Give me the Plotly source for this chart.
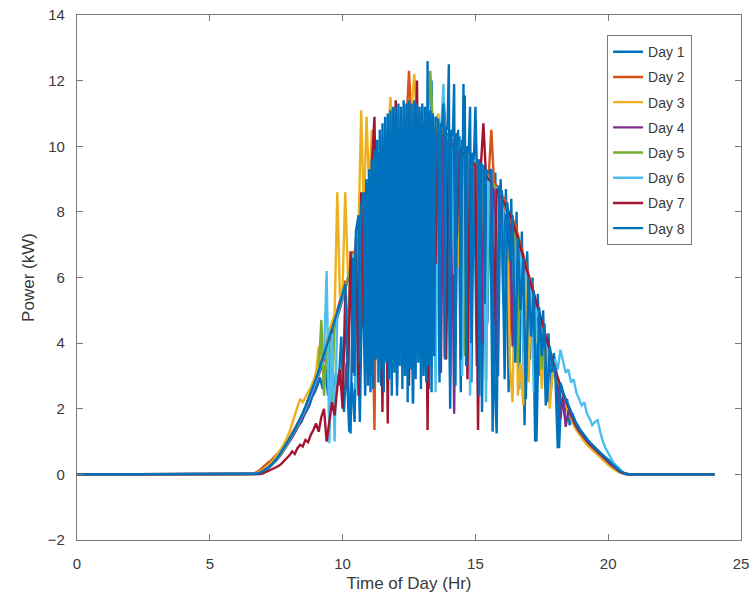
import plotly.graph_objects as go

# Sampling grid for the daylight hours (0.1 h steps, 6.5 h .. 21.0 h), plus night end points
GRID_START = 6.5
GRID_STEP = 0.1
GRID_COUNT = 146
HOURS = [0.0] + [round(GRID_START + GRID_STEP * i, 2) for i in range(GRID_COUNT)] + [24.0]
# Day 1 was logged half a step later (6.55 h, 6.65 h, ...)
DAY1_OFFSET = 0.05
HOURS_DAY1 = [0.0] + [round(GRID_START + DAY1_OFFSET + GRID_STEP * i, 2) for i in range(GRID_COUNT)] + [24.0]
# Day 8 was logged every 0.05 h between 10.45 h and 15.5 h
FINE_STEP = 0.05
HOURS_DAY8 = ([0.0]
              + [round(6.5 + GRID_STEP * i, 2) for i in range(40)]        # 6.5 .. 10.4
              + [round(10.45 + FINE_STEP * i, 2) for i in range(102)]     # 10.45 .. 15.5
              + [round(15.6 + GRID_STEP * i, 2) for i in range(55)]       # 15.6 .. 21.0
              + [24.0])

# Power (kW); first and last values are the night-time zeros at 0 h and 24 h.
# Rows: 6.5-6.9, then one row per hour 7..20, then 21.0
day1 = [0,
    0, 0, 0.01, 0.03, 0.06,
    0.1, 0.16, 0.22, 0.3, 0.38, 0.48, 0.6, 0.7, 0.82, 0.95,
    1.05, 1.2, 1.35, 1.5, 1.6, 1.8, 1.95, 2.1, 2.35, 2.5,
    2.7, 2.95, 2.6, 3.3, 2.4, 3.6, 2.2, 3.1, 2.7, 4.2,
    1.9, 3.4, 1.3, 2.8, 1.6, 5.2, 1.6, 6.6, 2.4, 7.9,
    2.5, 8.6, 3.8, 9.3, 2.7, 9.6, 4.2, 10.1, 3.1, 10.3,
    2.4, 10.5, 5.0, 10.7, 3.3, 11.2, 2.2, 10.9, 4.5, 11.0,
    3.2, 10.8, 2.6, 12.0, 4.1, 10.6, 2.8, 11.1, 3.6, 10.4,
    2.0, 10.2, 3.9, 10.5, 2.5, 11.9, 4.4, 10.0, 2.8, 9.8,
    3.3, 9.6, 1.9, 9.4, 4.6, 9.3, 1.3, 9.2, 3.0, 9.0,
    5.2, 8.7, 2.5, 8.4, 3.8, 8.0, 2.6, 7.4, 1.5, 6.8,
    3.5, 6.0, 1.0, 5.5, 3.0, 5.0, 2.1, 4.3, 2.6, 3.7,
    3.1, 0.8, 2.7, 1.8, 2.3, 1.5, 1.85, 1.6, 1.5, 1.35,
    1.25, 1.13, 1.03, 0.94, 0.85, 0.77, 0.7, 0.62, 0.55, 0.48,
    0.4, 0.32, 0.25, 0.17, 0.11, 0.06, 0.02, 0, 0, 0,
    0,
    0]

day2 = [0,
    0, 0.01, 0.04, 0.08, 0.14,
    0.22, 0.3, 0.36, 0.42, 0.5, 0.6, 0.68, 0.78, 0.88, 1.0,
    1.12, 1.25, 1.4, 1.55, 1.7, 1.85, 2.05, 2.25, 2.45, 2.7,
    2.95, 3.2, 3.45, 3.7, 3.95, 4.2, 4.5, 4.75, 5.0, 5.3,
    5.6, 5.9, 4.1, 6.5, 6.8, 3.6, 7.4, 7.7, 5.2, 8.3,
    8.8, 6.1, 1.35, 9.4, 9.6, 7.3, 9.9, 10.0, 3.5, 10.2,
    10.3, 10.4, 8.2, 10.5, 10.6, 12.3, 10.6, 6.5, 10.7, 10.7,
    10.7, 4.8, 10.6, 10.6, 9.0, 10.5, 10.4, 7.6, 11.5, 10.3,
    10.2, 10.2, 5.4, 10.0, 9.9, 9.9, 3.8, 9.8, 9.7, 9.6,
    9.5, 9.4, 9.4, 6.9, 9.2, 9.1, 10.5, 8.9, 8.8, 8.6,
    8.5, 8.4, 8.2, 4.2, 7.8, 7.6, 7.3, 7.0, 6.7, 6.4,
    6.1, 5.8, 5.5, 5.2, 4.9, 4.6, 4.3, 4.0, 3.7, 3.4,
    3.1, 2.85, 2.6, 2.35, 2.15, 1.95, 1.75, 1.58, 1.43, 1.3,
    1.18, 1.08, 0.98, 0.89, 0.8, 0.72, 0.64, 0.57, 0.5, 0.43,
    0.35, 0.27, 0.2, 0.14, 0.09, 0.05, 0.02, 0, 0, 0,
    0,
    0]

day3 = [0,
    0, 0, 0.02, 0.05, 0.09,
    0.14, 0.2, 0.27, 0.35, 0.44, 0.55, 0.67, 0.8, 0.95, 1.1,
    1.3, 1.55, 1.85, 2.1, 2.3, 2.2, 2.35, 2.5, 2.65, 2.85,
    3.1, 3.9, 3.6, 3.85, 4.1, 4.35, 4.6, 4.9, 8.6, 5.4,
    5.7, 8.6, 6.1, 6.4, 4.2, 7.0, 7.4, 11.1, 7.9, 10.9,
    8.7, 10.5, 9.2, 6.8, 9.5, 9.7, 9.8, 9.9, 11.5, 10.1,
    10.2, 5.3, 10.4, 10.4, 10.5, 10.6, 11.2, 12.2, 10.7, 8.8,
    10.7, 10.6, 3.9, 10.6, 10.5, 10.5, 11.0, 10.4, 10.3, 10.3,
    10.2, 10.1, 10.0, 10.0, 6.3, 9.8, 9.8, 9.7, 9.6, 9.5,
    9.4, 9.3, 9.3, 9.2, 9.1, 9.0, 8.9, 8.8, 8.6, 8.4,
    8.3, 8.1, 7.9, 3.3, 2.2, 7.3, 2.4, 3.4, 2.1, 6.2,
    2.8, 5.6, 5.3, 4.0, 4.7, 2.6, 4.1, 3.7, 2.0, 3.1,
    2.9, 2.7, 2.45, 2.25, 2.05, 1.85, 1.65, 1.5, 1.35, 1.22,
    1.1, 1.0, 0.9, 0.82, 0.74, 0.66, 0.58, 0.5, 0.43, 0.36,
    0.29, 0.22, 0.16, 0.11, 0.07, 0.04, 0.01, 0, 0, 0,
    0,
    0]

day4 = [0,
    0, 0, 0, 0.02, 0.04,
    0.08, 0.12, 0.18, 0.25, 0.33, 0.42, 0.52, 0.63, 0.75, 0.88,
    1.0, 1.13, 1.27, 1.42, 1.58, 1.75, 1.93, 2.12, 2.33, 2.55,
    2.78, 3.0, 3.25, 3.5, 3.75, 4.0, 4.25, 4.5, 4.78, 5.05,
    5.35, 5.65, 5.95, 6.25, 6.55, 6.9, 7.2, 7.5, 7.8, 8.1,
    8.4, 8.65, 8.9, 9.1, 4.2, 9.5, 9.65, 9.8, 9.95, 10.05,
    10.15, 10.25, 10.3, 10.4, 10.45, 10.5, 10.55, 10.6, 10.6, 10.6,
    10.6, 10.6, 10.55, 10.55, 10.5, 10.45, 10.4, 3.1, 10.3, 10.25,
    10.15, 10.1, 1.85, 10.0, 9.9, 9.85, 9.8, 9.7, 9.6, 9.5,
    9.45, 9.35, 9.25, 4.0, 9.05, 8.95, 8.85, 8.7, 2.6, 8.45,
    8.3, 8.15, 8.0, 7.8, 3.9, 7.3, 7.05, 6.75, 6.45, 6.15,
    5.85, 5.6, 5.35, 5.1, 4.85, 4.55, 4.25, 3.95, 3.65, 3.35,
    3.1, 2.85, 1.7, 2.4, 1.45, 1.95, 1.78, 1.6, 1.45, 1.32,
    1.2, 1.1, 1.0, 0.91, 0.83, 0.75, 0.68, 0.6, 0.53, 0.46,
    0.38, 0.3, 0.23, 0.16, 0.1, 0.05, 0.02, 0, 0, 0,
    0,
    0]

day5 = [0,
    0, 0, 0.01, 0.03, 0.05,
    0.09, 0.14, 0.2, 0.27, 0.35, 0.44, 0.54, 0.65, 0.77, 0.9,
    1.03, 1.17, 1.32, 1.48, 1.65, 1.83, 2.02, 2.22, 2.43, 2.65,
    2.88, 3.1, 4.7, 2.4, 3.85, 4.1, 2.2, 4.6, 4.85, 5.1,
    5.4, 5.7, 6.0, 6.3, 6.6, 6.95, 3.0, 7.55, 7.85, 8.15,
    8.45, 8.7, 4.4, 9.15, 9.35, 9.55, 9.7, 2.8, 10.0, 10.1,
    10.2, 10.3, 10.35, 10.45, 5.1, 10.55, 10.6, 10.65, 10.65, 10.7,
    10.7, 10.65, 10.65, 12.3, 10.55, 10.5, 10.45, 10.4, 10.35, 10.3,
    10.2, 10.15, 10.1, 10.0, 9.95, 9.9, 3.6, 9.75, 9.65, 9.55,
    9.5, 9.4, 9.3, 9.2, 2.9, 9.0, 8.9, 8.8, 8.65, 8.5,
    8.35, 8.2, 8.05, 7.85, 7.6, 7.35, 3.4, 6.85, 6.55, 6.25,
    5.95, 5.7, 5.45, 5.2, 4.9, 3.2, 4.3, 4.0, 3.7, 3.4,
    3.15, 2.9, 2.65, 2.45, 2.25, 2.05, 1.85, 1.67, 1.52, 1.38,
    1.26, 1.15, 1.05, 0.96, 0.87, 0.79, 0.71, 0.63, 0.56, 0.49,
    0.41, 0.33, 0.26, 0.18, 0.12, 0.07, 0.03, 0.01, 0, 0,
    0,
    0]

day6 = [0,
    0, 0, 0, 0.02, 0.05,
    0.09, 0.14, 0.2, 0.27, 0.35, 0.45, 0.56, 0.68, 0.8, 0.93,
    1.06, 1.2, 1.35, 1.5, 1.66, 1.83, 2.0, 2.2, 2.4, 2.62,
    2.85, 3.1, 3.35, 3.6, 6.2, 0.95, 4.3, 1.0, 4.85, 5.15,
    5.45, 5.75, 2.9, 6.4, 6.7, 2.6, 7.3, 7.6, 5.0, 8.2,
    8.5, 3.4, 9.0, 9.2, 4.5, 9.6, 9.75, 2.9, 10.0, 10.1,
    6.8, 10.3, 10.35, 3.2, 10.5, 10.55, 7.4, 10.6, 10.65, 3.7,
    10.7, 10.65, 5.9, 10.6, 10.55, 2.5, 10.45, 10.4, 11.9, 4.3,
    10.2, 10.15, 6.1, 10.0, 9.95, 3.0, 9.85, 9.75, 2.4, 9.6,
    9.5, 4.8, 9.35, 9.25, 2.2, 9.05, 8.95, 5.6, 8.75, 8.6,
    8.45, 3.6, 8.1, 7.9, 7.65, 4.4, 7.15, 6.85, 3.9, 6.25,
    5.95, 5.65, 2.5, 5.1, 4.8, 4.5, 4.2, 3.9, 3.6, 3.3,
    3.5, 3.2, 3.8, 3.4, 3.1, 3.2, 2.8, 2.9, 2.5, 2.3,
    2.1, 2.2, 1.85, 1.7, 1.5, 1.6, 1.65, 1.3, 1.0, 0.8,
    0.64, 0.5, 0.35, 0.27, 0.2, 0.08, 0.02, 0, 0, 0,
    0,
    0]

day7 = [0,
    0, 0, 0, 0, 0.01,
    0.03, 0.06, 0.1, 0.14, 0.18, 0.22, 0.26, 0.33, 0.4, 0.5,
    0.58, 0.7, 0.62, 0.8, 0.9, 0.85, 1.05, 0.98, 1.2, 1.35,
    1.55, 1.3, 1.75, 2.0, 1.0, 1.6, 2.2, 1.8, 2.65, 3.2,
    2.0, 5.5, 2.6, 6.8, 3.1, 7.2, 2.4, 8.6, 4.5, 8.9,
    3.3, 9.4, 10.9, 5.2, 9.6, 1.9, 9.9, 1.55, 10.1, 6.0,
    11.4, 3.6, 10.5, 7.8, 10.6, 2.7, 10.6, 8.3, 12.0, 4.2,
    10.7, 9.2, 1.35, 10.6, 10.5, 6.4, 10.4, 10.35, 10.3, 3.5,
    10.15, 10.1, 10.0, 7.2, 9.9, 9.8, 9.7, 2.9, 9.6, 9.5,
    9.45, 1.35, 9.3, 10.7, 9.1, 9.0, 8.9, 4.6, 8.7, 8.55,
    8.4, 8.25, 8.1, 7.9, 7.7, 7.45, 7.2, 6.9, 6.6, 6.3,
    6.0, 5.75, 5.5, 5.25, 4.95, 4.65, 4.35, 4.05, 3.75, 3.45,
    3.2, 2.95, 2.7, 2.45, 2.25, 2.05, 1.85, 1.65, 1.5, 1.37,
    1.25, 1.14, 1.04, 0.95, 0.86, 0.78, 0.7, 0.62, 0.55, 0.48,
    0.4, 0.32, 0.24, 0.17, 0.11, 0.06, 0.03, 0.01, 0, 0,
    0,
    0]

# Day 8: 0 h, then 6.5-10.4 (0.1 h), 10.45-15.5 (0.05 h), 15.6-21.0 (0.1 h), then 24 h
day8 = [0,
    0, 0, 0.01, 0.02, 0.05,
    0.1, 0.15, 0.21, 0.28, 0.36, 0.46, 0.57, 0.69, 0.81, 0.94,
    1.07, 1.21, 1.36, 1.52, 1.69, 1.87, 2.06, 2.26, 2.47, 2.69,
    2.92, 3.15, 3.4, 3.65, 3.9, 4.15, 4.4, 4.65, 4.9, 5.2,
    5.5, 5.8, 2.9, 1.25, 6.6,
    # 10.45 .. 10.95
    3.0, 7.4, 7.6, 7.9, 3.4, 8.2, 8.4, 8.6, 3.1, 9.0, 2.7,
    # 11.0 .. 11.95
    9.3, 3.0, 9.6, 2.6, 9.9, 3.5, 10.2, 2.8, 10.5, 3.2, 10.7, 2.5, 10.9, 3.4, 11.0, 2.9, 11.1, 2.4, 11.2, 3.1,
    # 12.0 .. 12.95
    11.2, 2.7, 11.3, 3.3, 11.2, 2.6, 11.4, 3.0, 11.3, 2.2, 11.4, 3.2, 11.3, 2.15, 11.4, 2.9, 11.3, 3.4, 11.2, 2.6,
    # 13.0 .. 13.95
    11.3, 3.0, 11.2, 2.8, 12.6, 3.3, 11.1, 2.5, 11.0, 3.6, 10.9, 10.8, 10.8, 3.1, 10.7, 10.6, 11.3, 3.5, 10.6, 10.5,
    # 14.0 .. 14.95
    12.5, 3.0, 10.5, 10.3, 11.9, 2.7, 10.4, 10.2, 10.3, 3.5, 10.2, 10.0, 11.55, 3.3, 10.0, 9.9, 11.2, 4.0, 9.8, 9.7,
    # 15.0 .. 15.5
    11.2, 9.5, 9.6, 2.4, 9.5, 9.4, 9.4, 5.2, 9.3, 9.2, 9.2,
    # 15.6 .. 15.9
    9.3, 3.3, 1.25, 8.8,
    8.6, 2.9, 8.3, 6.5, 7.9, 3.4, 7.2, 5.0, 6.6, 2.3,
    6.0, 4.2, 5.6, 1.0, 5.1, 3.6, 4.6, 2.2, 3.9, 3.3,
    3.3, 0.8, 2.8, 2.5, 2.3, 2.1, 1.9, 1.7, 1.55, 1.4,
    1.28, 1.17, 1.07, 0.98, 0.89, 0.81, 0.73, 0.65, 0.58, 0.5,
    0.42, 0.34, 0.26, 0.19, 0.13, 0.08, 0.04, 0.01, 0, 0,
    0,
    0]

DAY_NAMES = ["Day 1", "Day 2", "Day 3", "Day 4", "Day 5", "Day 6", "Day 7", "Day 8"]
DAY_VALUES = [day1, day2, day3, day4, day5, day6, day7, day8]
DAY_HOURS = [HOURS_DAY1, HOURS, HOURS, HOURS, HOURS, HOURS, HOURS, HOURS_DAY8]
COLORS = ["#0072BD", "#D95319", "#EDB120", "#7E2F8E", "#77AC30", "#4DBEEE", "#A2142F", "#0072BD"]

X_TICKS = [0, 5, 10, 15, 20, 25]
Y_TICKS = [-2, 0, 2, 4, 6, 8, 10, 12, 14]

fig = go.Figure()
for name, hrs, vals, col in zip(DAY_NAMES, DAY_HOURS, DAY_VALUES, COLORS):
    fig.add_trace(go.Scatter(
        x=hrs, y=vals, mode="lines", name=name,
        line=dict(color=col, width=2.4),
        legendgroup=name,
    ))

FONT = "Liberation Sans, Arial, sans-serif"
TXT = "#3a3a3a"
AX = "#7a7a7a"
axis_common = dict(
    showgrid=False, zeroline=False, automargin=False,
    showline=True, linecolor=AX, linewidth=1.2, mirror="ticks",
    ticks="inside", ticklen=6, tickcolor=AX, tickwidth=1.2,
    tickfont=dict(family=FONT, size=15, color=TXT),
)

fig.update_layout(
    width=753, height=609,
    margin=dict(l=77, r=12, t=15, b=69),
    paper_bgcolor="white", plot_bgcolor="white",
    xaxis=dict(range=[0, 25], tickvals=X_TICKS, ticklabelstandoff=10,
               title=dict(text="Time of Day (Hr)", font=dict(family=FONT, size=17, color=TXT), standoff=6),
               **axis_common),
    yaxis=dict(range=[-2, 14], tickvals=Y_TICKS, ticklabelstandoff=8,
               title=dict(text="Power (kW)", font=dict(family=FONT, size=17, color=TXT), standoff=8),
               **axis_common),
    legend=dict(
        x=0.798, y=0.962, xanchor="left", yanchor="top",
        bgcolor="white", bordercolor=AX, borderwidth=1.2,
        font=dict(family=FONT, size=14, color=TXT),
        tracegroupgap=4,
    ),
    showlegend=True,
)

fig.write_html("out.html", config={"displayModeBar": False},
               post_script="document.body.style.margin='0';")
